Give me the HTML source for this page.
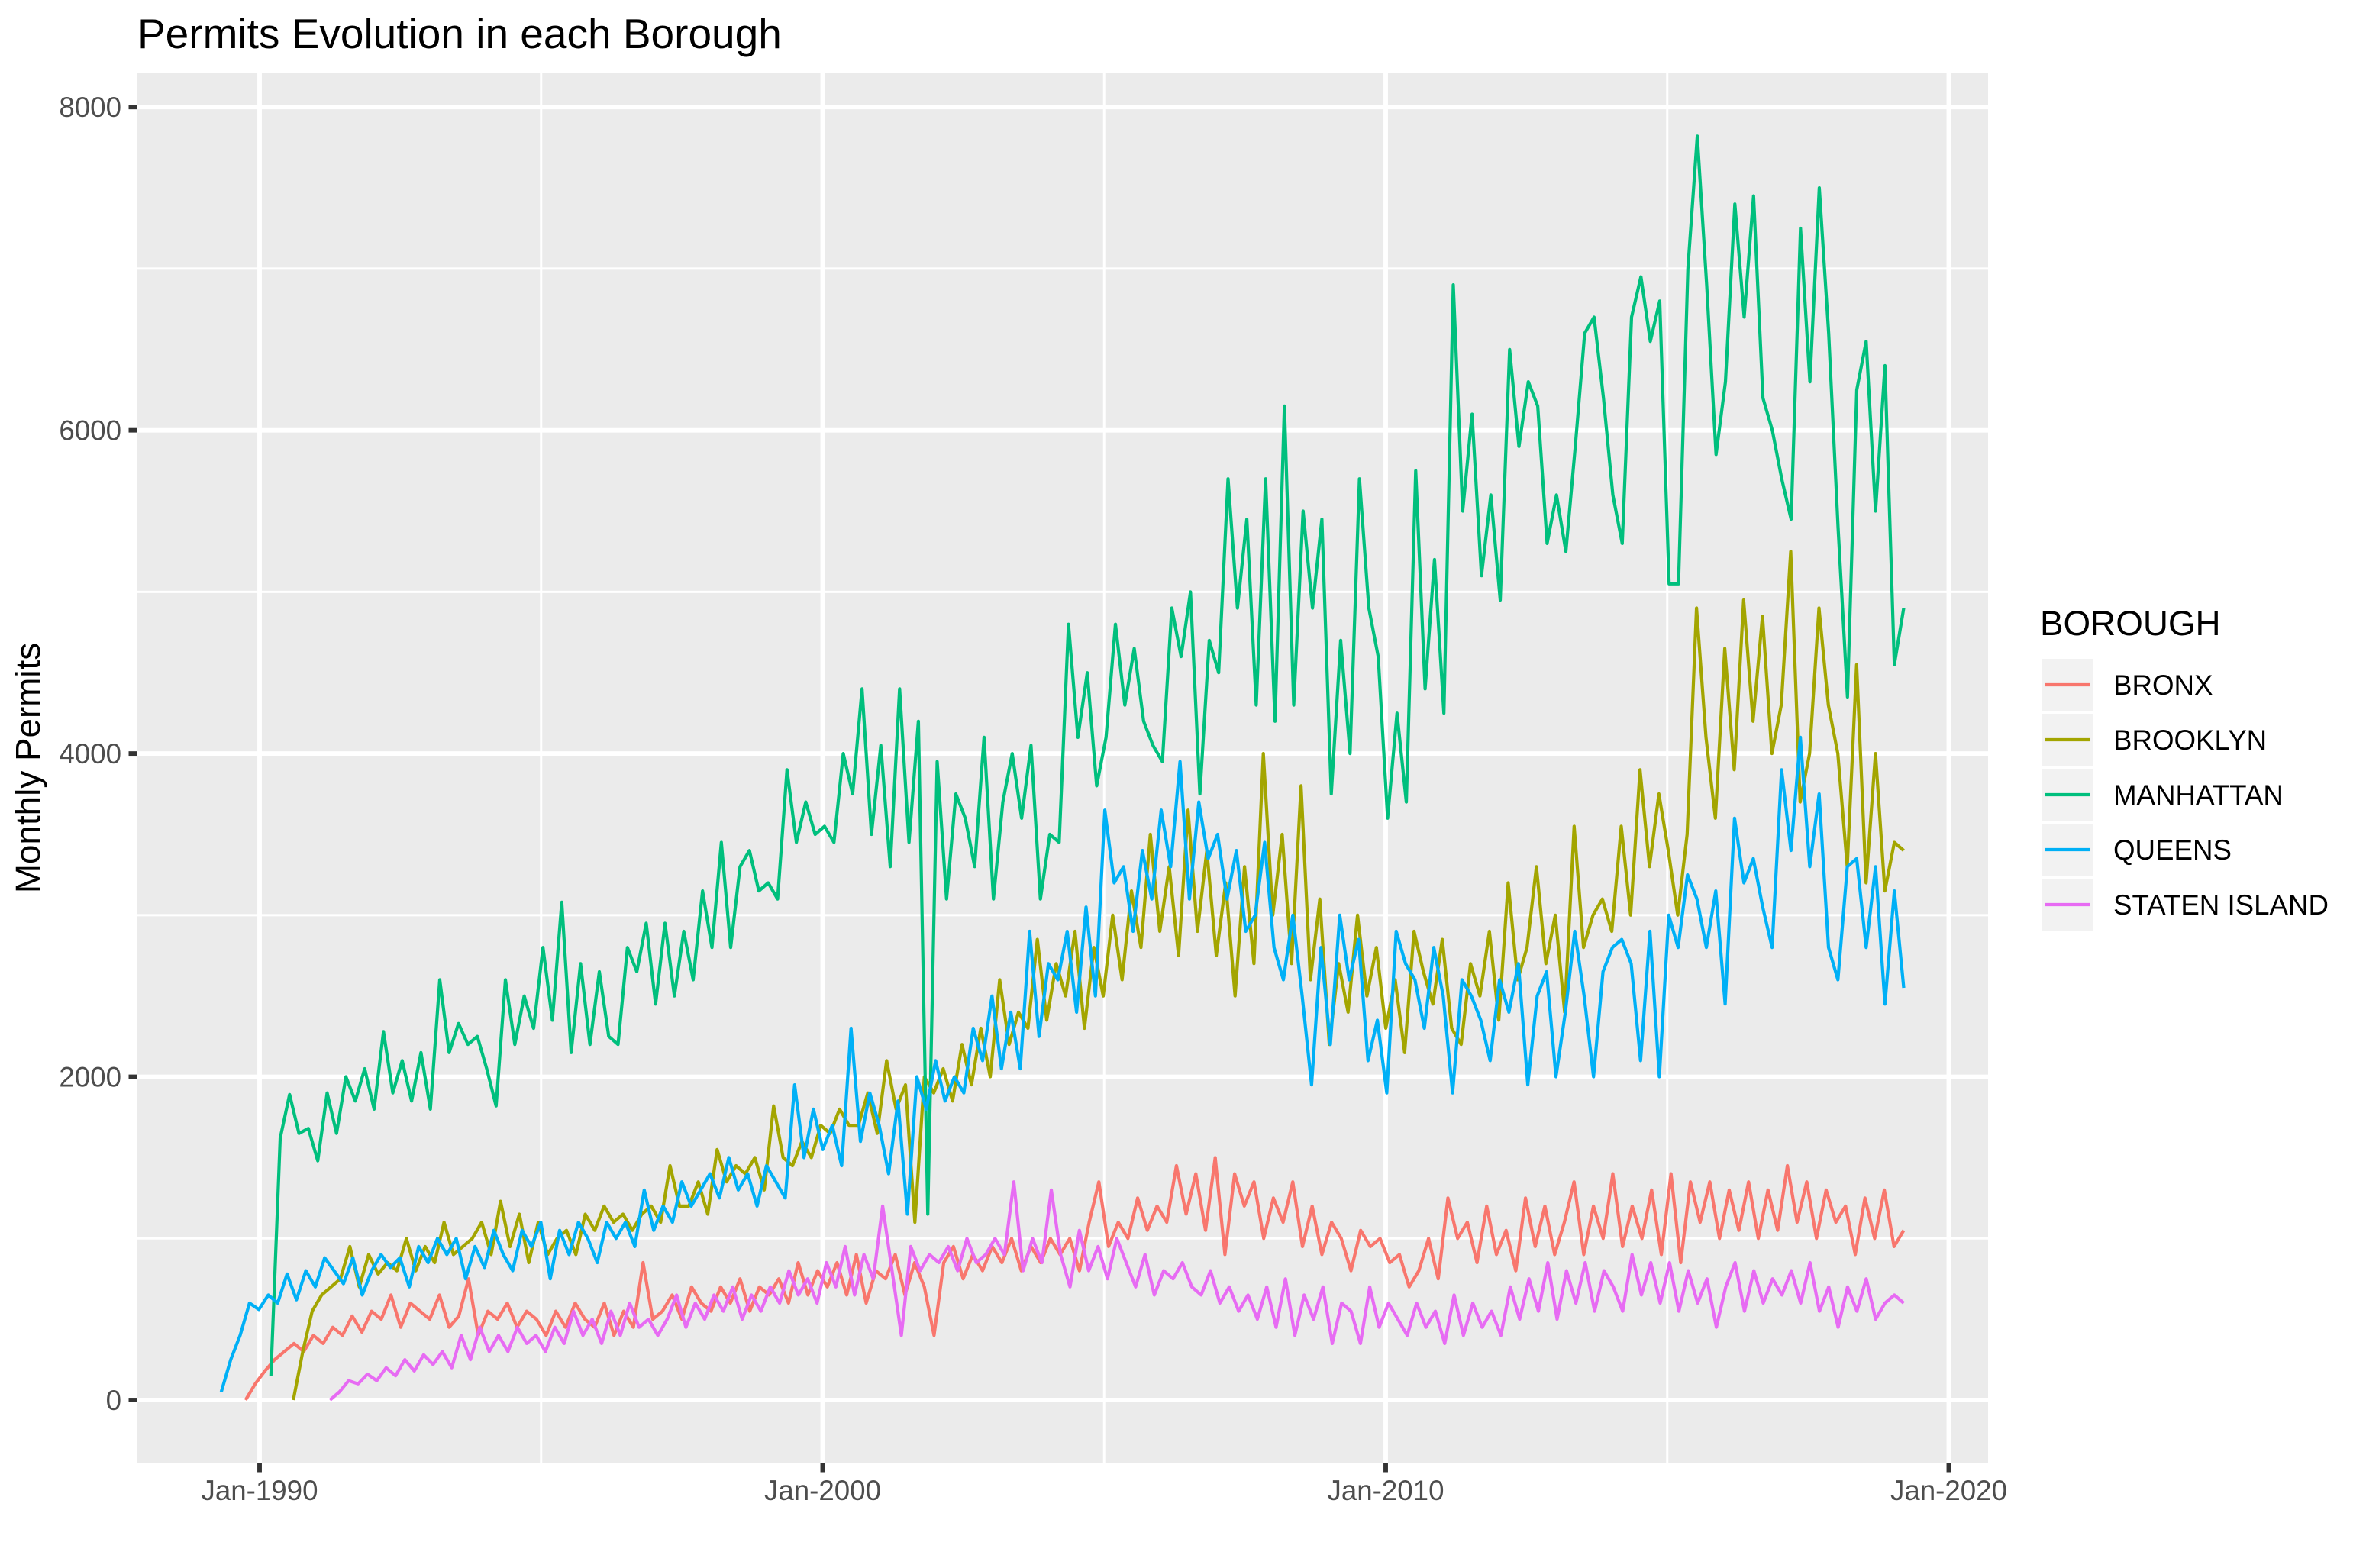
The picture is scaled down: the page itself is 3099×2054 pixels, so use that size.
<!DOCTYPE html>
<html>
<head>
<meta charset="utf-8">
<style>
  html,body{margin:0;padding:0;background:#fff;}
  svg{display:block;font-family:"Liberation Sans",Arial,sans-serif;}
</style>
</head>
<body>
<svg id="chart" width="3099" height="2054" viewBox="0 0 3099 2054">
  <rect x="0" y="0" width="3099" height="2054" fill="#ffffff"/>
  <rect x="180" y="95" width="2424" height="1822" fill="#EBEBEB"/>
  <g id="grid"></g>
  <g id="series"></g>
  <g id="axes"></g>
  <text x="180" y="63" font-size="55" fill="#000">Permits Evolution in each Borough</text>
  <text transform="translate(52,1006) rotate(-90)" text-anchor="middle" font-size="45.8" fill="#000">Monthly Permits</text>
  <g id="legend">
    <text x="2672" y="832" font-size="45.8" fill="#000">BOROUGH</text>
  </g>
</svg>
<script>
// ---- data ----
const boroughs = ["BRONX","BROOKLYN","MANHATTAN","QUEENS","STATEN ISLAND"];
const colors = ["#F8766D","#A3A500","#00BF7D","#00B0F6","#E76BF3"];
const yTicks = [0,2000,4000,6000,8000];
const yMinorTicks = [1000,3000,5000,7000];
const xTicks = [1990,2000,2010,2020];
const xTickLabels = ["Jan-1990","Jan-2000","Jan-2010","Jan-2020"];
const xMinorTicks = [1995,2005,2015];
const startYears = [1989.75, 1990.6, 1990.2, 1989.32, 1991.25];
const endYears = [2019.2, 2019.2, 2019.2, 2019.2, 2019.2];

const bronxValues = [
0,100,180,250,300,350, 300,400,350,450,400,520, 420,550,500,650,450,600, 550,500,650,450,520,750,
400,550,500,600,450,550, 500,400,550,450,600,500, 450,600,400,550,450,850, 500,550,650,500,700,600,
550,700,600,750,550,700, 650,750,600,850,650,800, 700,850,650,900,600,800, 750,900,650,850,700,400,
850,950,750,900,800,950, 850,1000,800,950,850,1000, 900,1000,800,1100,1350,950, 1100,1000,1250,1050,1200,1100,
1450,1150,1400,1050,1500,900, 1400,1200,1350,1000,1250,1100, 1350,950,1200,900,1100,1000, 800,1050,950,1000,850,900,
700,800,1000,750,1250,1000, 1100,850,1200,900,1050,800, 1250,950,1200,900,1100,1350, 900,1200,1000,1400,950,1200,
1000,1300,900,1400,850,1350, 1100,1350,1000,1300,1050,1350, 1000,1300,1050,1450,1100,1350, 1000,1300,1100,1200,900,1250,
1000,1300,950,1050];

const brooklynValues = [
0,300,550,650,700,750, 950,700,900,780,850,800, 1000,800,950,850,1100,900, 950,1000,1100,900,1230,950,
1150,850,1100,900,1000,1050, 900,1150,1050,1200,1100,1150, 1050,1150,1200,1100,1450,1200, 1200,1350,1150,1550,1350,1450,
1400,1500,1300,1820,1500,1450, 1600,1500,1700,1650,1800,1700, 1700,1900,1650,2100,1800,1950, 1100,2000,1900,2050,1850,2200,
1950,2300,2000,2600,2200,2400, 2300,2850,2350,2700,2500,2900, 2300,2800,2500,3000,2600,3150, 2800,3500,2900,3300,2750,3650,
2900,3400,2750,3200,2500,3300, 2700,4000,3000,3500,2700,3800, 2600,3100,2200,2700,2400,3000, 2500,2800,2300,2600,2150,2900,
2650,2450,2850,2300,2200,2700, 2500,2900,2350,3200,2600,2800, 3300,2700,3000,2400,3550,2800, 3000,3100,2900,3550,3000,3900,
3300,3750,3400,3000,3500,4900, 4100,3600,4650,3900,4950,4200, 4850,4000,4300,5250,3700,4000, 4900,4300,4000,3300,4550,3200,
4000,3150,3450,3400];

const manhattanValues = [
150,1620,1890,1650,1680,1480, 1900,1650,2000,1850,2050,1800, 2280,1900,2100,1850,2150,1800, 2600,2150,2330,2200,2250,2050,
1820,2600,2200,2500,2300,2800, 2350,3080,2150,2700,2200,2650, 2250,2200,2800,2650,2950,2450, 2950,2500,2900,2600,3150,2800,
3450,2800,3300,3400,3150,3200, 3100,3900,3450,3700,3500,3550, 3450,4000,3750,4400,3500,4050, 3300,4400,3450,4200,1150,3950,
3100,3750,3600,3300,4100,3100, 3700,4000,3600,4050,3100,3500, 3450,4800,4100,4500,3800,4100, 4800,4300,4650,4200,4050,3950,
4900,4600,5000,3750,4700,4500, 5700,4900,5450,4300,5700,4200, 6150,4300,5500,4900,5450,3750, 4700,4000,5700,4900,4600,3600,
4250,3700,5750,4400,5200,4250, 6900,5500,6100,5100,5600,4950, 6500,5900,6300,6150,5300,5600, 5250,5900,6600,6700,6200,5600,
5300,6700,6950,6550,6800,5050, 5050,7000,7820,6900,5850,6300, 7400,6700,7450,6200,6000,5700, 5450,7250,6300,7500,6600,5400,
4350,6250,6550,5500,6400,4550, 4900];

const queensValues = [
50,250,400,600,560,650, 600,780,620,800,700,880, 800,720,880,650,800,900, 820,880,700,950,850,1000,
900,1000,750,950,820,1050, 900,800,1050,950,1100,750, 1050,900,1100,1000,850,1100, 1000,1100,950,1300,1050,1200,
1100,1350,1200,1300,1400,1250, 1500,1300,1400,1200,1450,1350, 1250,1950,1500,1800,1550,1700, 1450,2300,1600,1900,1700,1400,
1850,1150,2000,1800,2100,1850, 2000,1900,2300,2100,2500,2050, 2400,2050,2900,2250,2700,2600, 2900,2400,3050,2500,3650,3200,
3300,2900,3400,3100,3650,3300, 3950,3100,3700,3350,3500,3100, 3400,2900,3000,3450,2800,2600, 3000,2500,1950,2800,2200,3000,
2600,2850,2100,2350,1900,2900, 2700,2600,2300,2800,2500,1900, 2600,2500,2350,2100,2600,2400, 2700,1950,2500,2650,2000,2400,
2900,2500,2000,2650,2800,2850, 2700,2100,2900,2000,3000,2800, 3250,3100,2800,3150,2450,3600, 3200,3350,3050,2800,3900,3400,
4100,3300,3750,2800,2600,3300, 3350,2800,3300,2450,3150,2550];

const statenValues = [
0,50,120,100,160,120, 200,150,250,180,280,220, 300,200,400,250,450,300, 400,300,450,350,400,300,
450,350,550,400,500,350, 550,400,600,450,500,400, 500,650,450,600,500,650, 550,700,500,650,550,700,
600,800,650,750,600,850, 700,950,650,900,750,1200, 800,400,950,800,900,850, 950,800,1000,850,900,1000,
900,1350,800,1000,850,1300, 900,700,1050,800,950,750, 1000,850,700,900,650,800, 750,850,700,650,800,600,
700,550,650,500,700,450, 750,400,650,500,700,350, 600,550,350,700,450,600, 500,400,600,450,550,350,
650,400,600,450,550,400, 700,500,750,550,850,500, 800,600,850,550,800,700, 550,900,650,850,600,850,
550,800,600,750,450,700, 850,550,800,600,750,650, 800,600,850,550,700,450, 700,550,750,500,600,650,
600];

const seriesValues = [bronxValues, brooklynValues, manhattanValues, queensValues, statenValues];

// ---- scales ----
const PL = 180, PR = 2604, PT = 95, PB = 1917;
const X0 = 340, PX_PER_YEAR = 73.75;
const Y0 = 1834, PX_PER_UNIT = 0.211725;
function xScale(year){ return X0 + (year - 1990) * PX_PER_YEAR; }
function yScale(v){ return Y0 - v * PX_PER_UNIT; }

const NS = "http://www.w3.org/2000/svg";
function mk(tag, attrs, parent){
  const el = document.createElementNS(NS, tag);
  for (const k in attrs) el.setAttribute(k, attrs[k]);
  parent.appendChild(el);
  return el;
}

const grid = document.getElementById("grid");
yMinorTicks.forEach(v => {
  const l = mk("line", {x1:PL, x2:PR, y1:yScale(v), y2:yScale(v), stroke:"#fff", "stroke-width":3}, grid);
  
  
});
xMinorTicks.forEach(v => {
  const l = mk("line", {x1:xScale(v), x2:xScale(v), y1:PT, y2:PB, stroke:"#fff", "stroke-width":3}, grid);
  
  
});
yTicks.forEach(v => {
  const l = mk("line", {x1:PL, x2:PR, y1:yScale(v), y2:yScale(v), stroke:"#fff", "stroke-width":5.9}, grid);
  
  
});
xTicks.forEach(v => {
  const l = mk("line", {x1:xScale(v), x2:xScale(v), y1:PT, y2:PB, stroke:"#fff", "stroke-width":5.9}, grid);
  
  
});

const sg = document.getElementById("series");
seriesValues.forEach((vals, s) => {
  const n = vals.length;
  const step = (endYears[s] - startYears[s]) / (n - 1);
  const pts = vals.map((v, i) => xScale(startYears[s] + i * step).toFixed(1) + "," + yScale(v).toFixed(1)).join(" ");
  const p = mk("polyline", {points:pts, fill:"none", stroke:colors[s], "stroke-width":4.2, "stroke-linejoin":"round"}, sg);
  
  
});

const ax = document.getElementById("axes");
yTicks.forEach(v => {
  const t = mk("line", {x1:168.5, x2:PL, y1:yScale(v), y2:yScale(v), stroke:"#333", "stroke-width":5.9}, ax);
  
  
  const lb = mk("text", {x:159, y:yScale(v)+13, "text-anchor":"end", "font-size":36.7, fill:"#4D4D4D"}, ax);
  lb.textContent = String(v);
  
  
});
xTicks.forEach((v, i) => {
  const t = mk("line", {x1:xScale(v), x2:xScale(v), y1:PB, y2:PB+11.5, stroke:"#333", "stroke-width":5.9}, ax);
  
  
  const lb = mk("text", {x:xScale(v), y:1965, "text-anchor":"middle", "font-size":36.7, fill:"#4D4D4D"}, ax);
  lb.textContent = xTickLabels[i];
  
  
});

const lg = document.getElementById("legend");
boroughs.forEach((b, i) => {
  const top = 863 + i * 72;
  const g = mk("g", {}, lg);
  
  
  mk("rect", {x:2674, y:top, width:68, height:68, fill:"#F2F2F2"}, g);
  mk("line", {x1:2679, x2:2737, y1:top+34, y2:top+34, stroke:colors[i], "stroke-width":4.2}, g);
  const t = mk("text", {x:2768, y:top+47, "font-size":36.7, fill:"#000"}, g);
  t.textContent = b;
});
</script>
</body>
</html>
